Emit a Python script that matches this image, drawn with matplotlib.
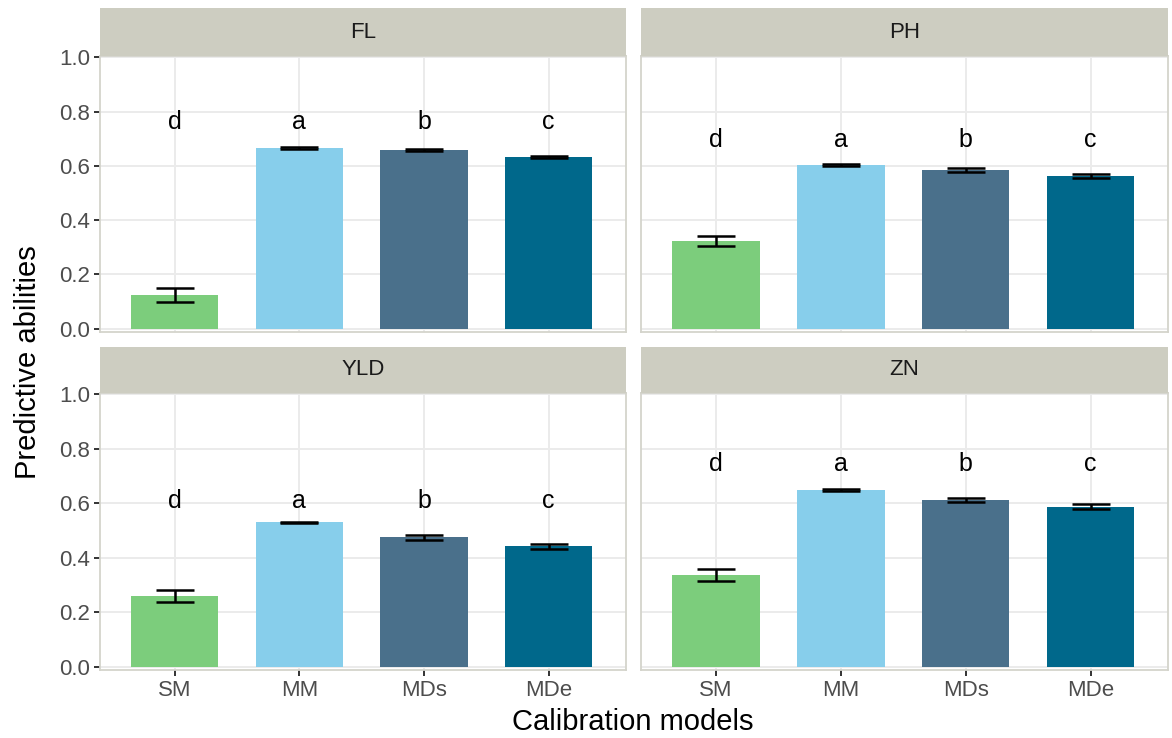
import matplotlib

matplotlib.use("Agg")
import matplotlib.pyplot as plt
import numpy as np

plt.rcParams["font.family"] = ["Liberation Sans", "DejaVu Sans"]

models = ["SM", "MM", "MDs", "MDe"]
traits = ["FL", "PH", "YLD", "ZN"]
colors = ["#7CCD7C", "#87CEEB", "#4A708B", "#00688B"]

means = {
    "FL": [0.125, 0.667, 0.658, 0.633],
    "PH": [0.322, 0.603, 0.585, 0.563],
    "YLD": [0.258, 0.530, 0.475, 0.442],
    "ZN": [0.335, 0.648, 0.612, 0.587],
}
errors = {
    "FL": [0.025, 0.003, 0.004, 0.004],
    "PH": [0.018, 0.003, 0.008, 0.009],
    "YLD": [0.022, 0.003, 0.008, 0.009],
    "ZN": [0.022, 0.003, 0.007, 0.009],
}
letters = ["d", "a", "b", "c"]
letter_y = {"FL": 0.76, "PH": 0.695, "YLD": 0.61, "ZN": 0.745}

W, H = 1172, 738
fig = plt.figure(figsize=(W / 100, H / 100), dpi=100)

# panel boxes in pixels: (x0, x1, strip_top, strip_bottom, plot_bottom)
boxes = {
    "FL": (100, 626, 8, 56, 332),
    "PH": (641, 1168, 8, 56, 332),
    "YLD": (100, 626, 347, 393, 670),
    "ZN": (641, 1168, 347, 393, 670),
}

strip_col = "#CDCDC1"
x = np.arange(1, len(models) + 1)

for t in traits:
    x0, x1, s0, s1, p1 = boxes[t]
    ax = fig.add_axes([x0 / W, 1 - p1 / H, (x1 - x0) / W, (p1 - s1) / H])
    sax = fig.add_axes([x0 / W, 1 - s1 / H, (x1 - x0) / W, (s1 - s0) / H])
    sax.set_facecolor(strip_col)
    sax.set_xticks([])
    sax.set_yticks([])
    for sp in sax.spines.values():
        sp.set_visible(False)
    sax.text(0.5, 0.5, t, ha="center", va="center", fontsize=16, color="#1A1A1A",
             transform=sax.transAxes)

    ax.bar(x, means[t], width=0.7, color=colors, zorder=2)
    ax.errorbar(x, means[t], yerr=errors[t], fmt="none", ecolor="black",
                elinewidth=1.8, capsize=13.7, capthick=1.8, zorder=3)
    for xi, lab in zip(x, letters):
        ax.text(xi, letter_y[t], lab, ha="center", va="center", fontsize=18,
                color="black", zorder=4)

    ax.set_xlim(0.4, 4.62)
    ax.set_ylim(-0.012, 1.005)
    ax.set_yticks(np.arange(0, 1.01, 0.2))
    ax.set_xticks(x)
    ax.grid(True, which="major", color="#EBEBEB", linewidth=1.4, zorder=0)
    ax.set_axisbelow(True)
    for sp in ax.spines.values():
        sp.set_color("#D4D4CC")
        sp.set_linewidth(1.3)
    ax.tick_params(axis="both", which="major", length=4, width=1.4,
                   color="#333333", labelsize=16, labelcolor="#4D4D4D", pad=3)

    if t in ("FL", "YLD"):
        ax.set_yticklabels([f"{v:.1f}" for v in np.arange(0, 1.01, 0.2)])
    else:
        ax.tick_params(axis="y", length=0, labelleft=False)
    if t in ("YLD", "ZN"):
        ax.set_xticklabels(models)
    else:
        ax.tick_params(axis="x", length=0, labelbottom=False)

fig.text(633 / W, 1 - 722 / H, "Calibration models", ha="center", va="center",
         fontsize=21, color="black")
fig.text(28 / W, 1 - 362 / H, "Predictive abilities", ha="center", va="center",
         rotation=90, fontsize=21, color="black")

fig.savefig("out.png", dpi=100)
